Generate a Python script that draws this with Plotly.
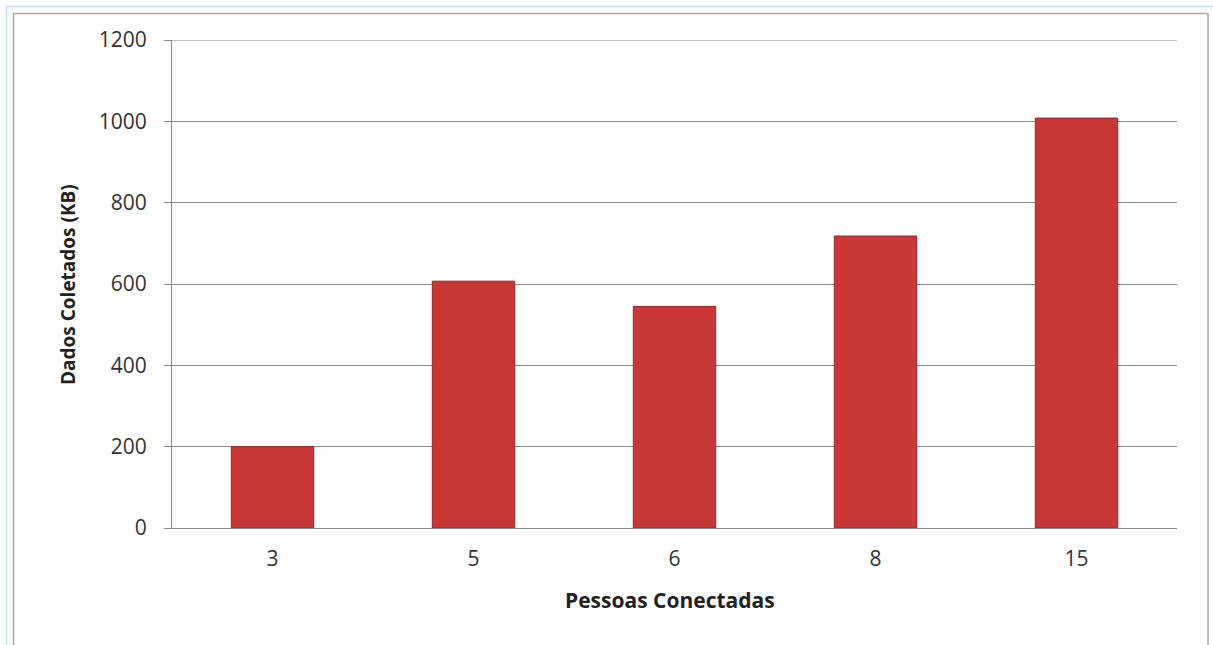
import plotly.graph_objects as go

categories = ["3", "5", "6", "8", "15"]
values = [200, 607, 545, 718, 1008]
y_ticks = [0, 200, 400, 600, 800, 1000, 1200]

W, H = 1213, 645
L, R, T, B = 172, 36, 40, 117
pw, ph = W - L - R, H - T - B

def px_x(p):
    return (p - L) / pw

def px_y(p):
    return 1 - (p - T) / ph

fig = go.Figure(go.Bar(
    x=categories, y=values,
    marker=dict(color="#c93636", line=dict(color="#9c2626", width=1)),
    width=0.41,
))

font = "Open Sans, Liberation Sans, sans-serif"

fig.update_layout(
    width=W, height=H,
    margin=dict(l=L, r=R, t=T, b=B),
    paper_bgcolor="white", plot_bgcolor="white",
    showlegend=False,
    font=dict(family=font, color="#333333", size=21),
    shapes=[
        dict(type="rect", xref="paper", yref="paper",
             x0=px_x(6.5), x1=px_x(1216), y0=px_y(6.5), y1=px_y(660),
             line=dict(color="#bfe0f2", width=1.5), layer="below"),
        dict(type="rect", xref="paper", yref="paper",
             x0=px_x(13.5), x1=px_x(1208), y0=px_y(13.5), y1=px_y(660),
             line=dict(color="#a8a8a8", width=1.5), layer="below"),
        # top gridline (plotly drops the gridline on the range edge)
        dict(type="line", xref="x domain", yref="y",
             x0=0, x1=1, y0=y_ticks[-1], y1=y_ticks[-1],
             line=dict(color="#8c8c8c", width=1), layer="below"),
    ],
    annotations=[
        dict(text="<b>Pessoas Conectadas</b>", xref="paper", yref="paper",
             x=px_x(670), y=px_y(600), xanchor="center", yanchor="middle",
             showarrow=False, font=dict(size=21, family=font, color="#222222")),
        dict(text="<b>Dados Coletados (KB)</b>", xref="paper", yref="paper",
             x=px_x(68), y=px_y(285), xanchor="center", yanchor="middle",
             textangle=-90, showarrow=False,
             font=dict(size=19, family=font, color="#222222")),
    ],
)

fig.update_xaxes(
    type="category",
    showline=True, linecolor="#8c8c8c", linewidth=1,
    showgrid=False, ticks="", ticklabelstandoff=12,
    tickfont=dict(size=21, color="#333333"),
)
fig.update_yaxes(
    range=[0, 1200], tickvals=y_ticks,
    showline=True, linecolor="#8c8c8c", linewidth=1,
    showgrid=True, gridcolor="#8c8c8c", gridwidth=1,
    ticks="outside", ticklen=7, tickcolor="#8c8c8c",
    ticklabelstandoff=13,
    tickfont=dict(size=21, color="#333333"),
    zeroline=False,
)

fig.write_html("out.html")
